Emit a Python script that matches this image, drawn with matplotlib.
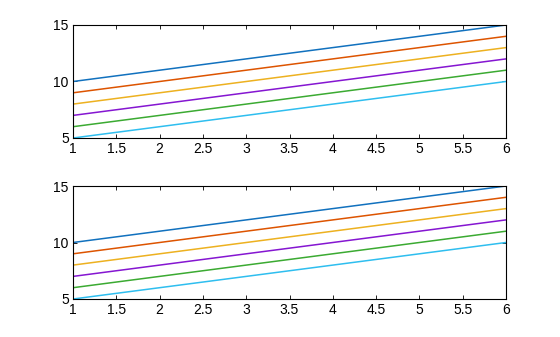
import numpy as np
import matplotlib
matplotlib.use('Agg')
import matplotlib.pyplot as plt

plt.rcParams['font.family'] = ['Liberation Sans', 'DejaVu Sans']

x = [1, 6]
# one line per colour, start and end values
line_values = [
    [10, 15],
    [9, 14],
    [8, 13],
    [7, 12],
    [6, 11],
    [5, 10],
]
colors = [(0.066, 0.443, 0.745), (0.866, 0.329, 0.0), (0.929, 0.694, 0.125),
          (0.521, 0.086, 0.819), (0.231, 0.666, 0.196), (0.184, 0.745, 0.937)]
xticks = [1, 1.5, 2, 2.5, 3, 3.5, 4, 4.5, 5, 5.5, 6]
xticklabels = ['1', '1.5', '2', '2.5', '3', '3.5', '4', '4.5', '5', '5.5', '6']
yticks = [5, 10, 15]

fig = plt.figure(figsize=(5.6, 3.37), dpi=100)
positions = [
    [73 / 560, 1 - 138 / 337, 433 / 560, 113 / 337],
    [73 / 560, 1 - 299 / 337, 433 / 560, 113 / 337],
]

for pos in positions:
    ax = fig.add_axes(pos)
    for vals, c in zip(line_values, colors):
        ax.plot(x, vals, color=c, linewidth=1.1)
    ax.set_xlim(1, 6)
    ax.set_ylim(5, 15)
    ax.set_xticks(xticks)
    ax.set_xticklabels(xticklabels)
    ax.set_yticks(yticks)
    ax.tick_params(direction='in', top=True, right=True, labelsize=10,
                   length=3, width=0.6, pad=3)
    for s in ax.spines.values():
        s.set_linewidth(0.8)

fig.savefig('out.png', dpi=100)
